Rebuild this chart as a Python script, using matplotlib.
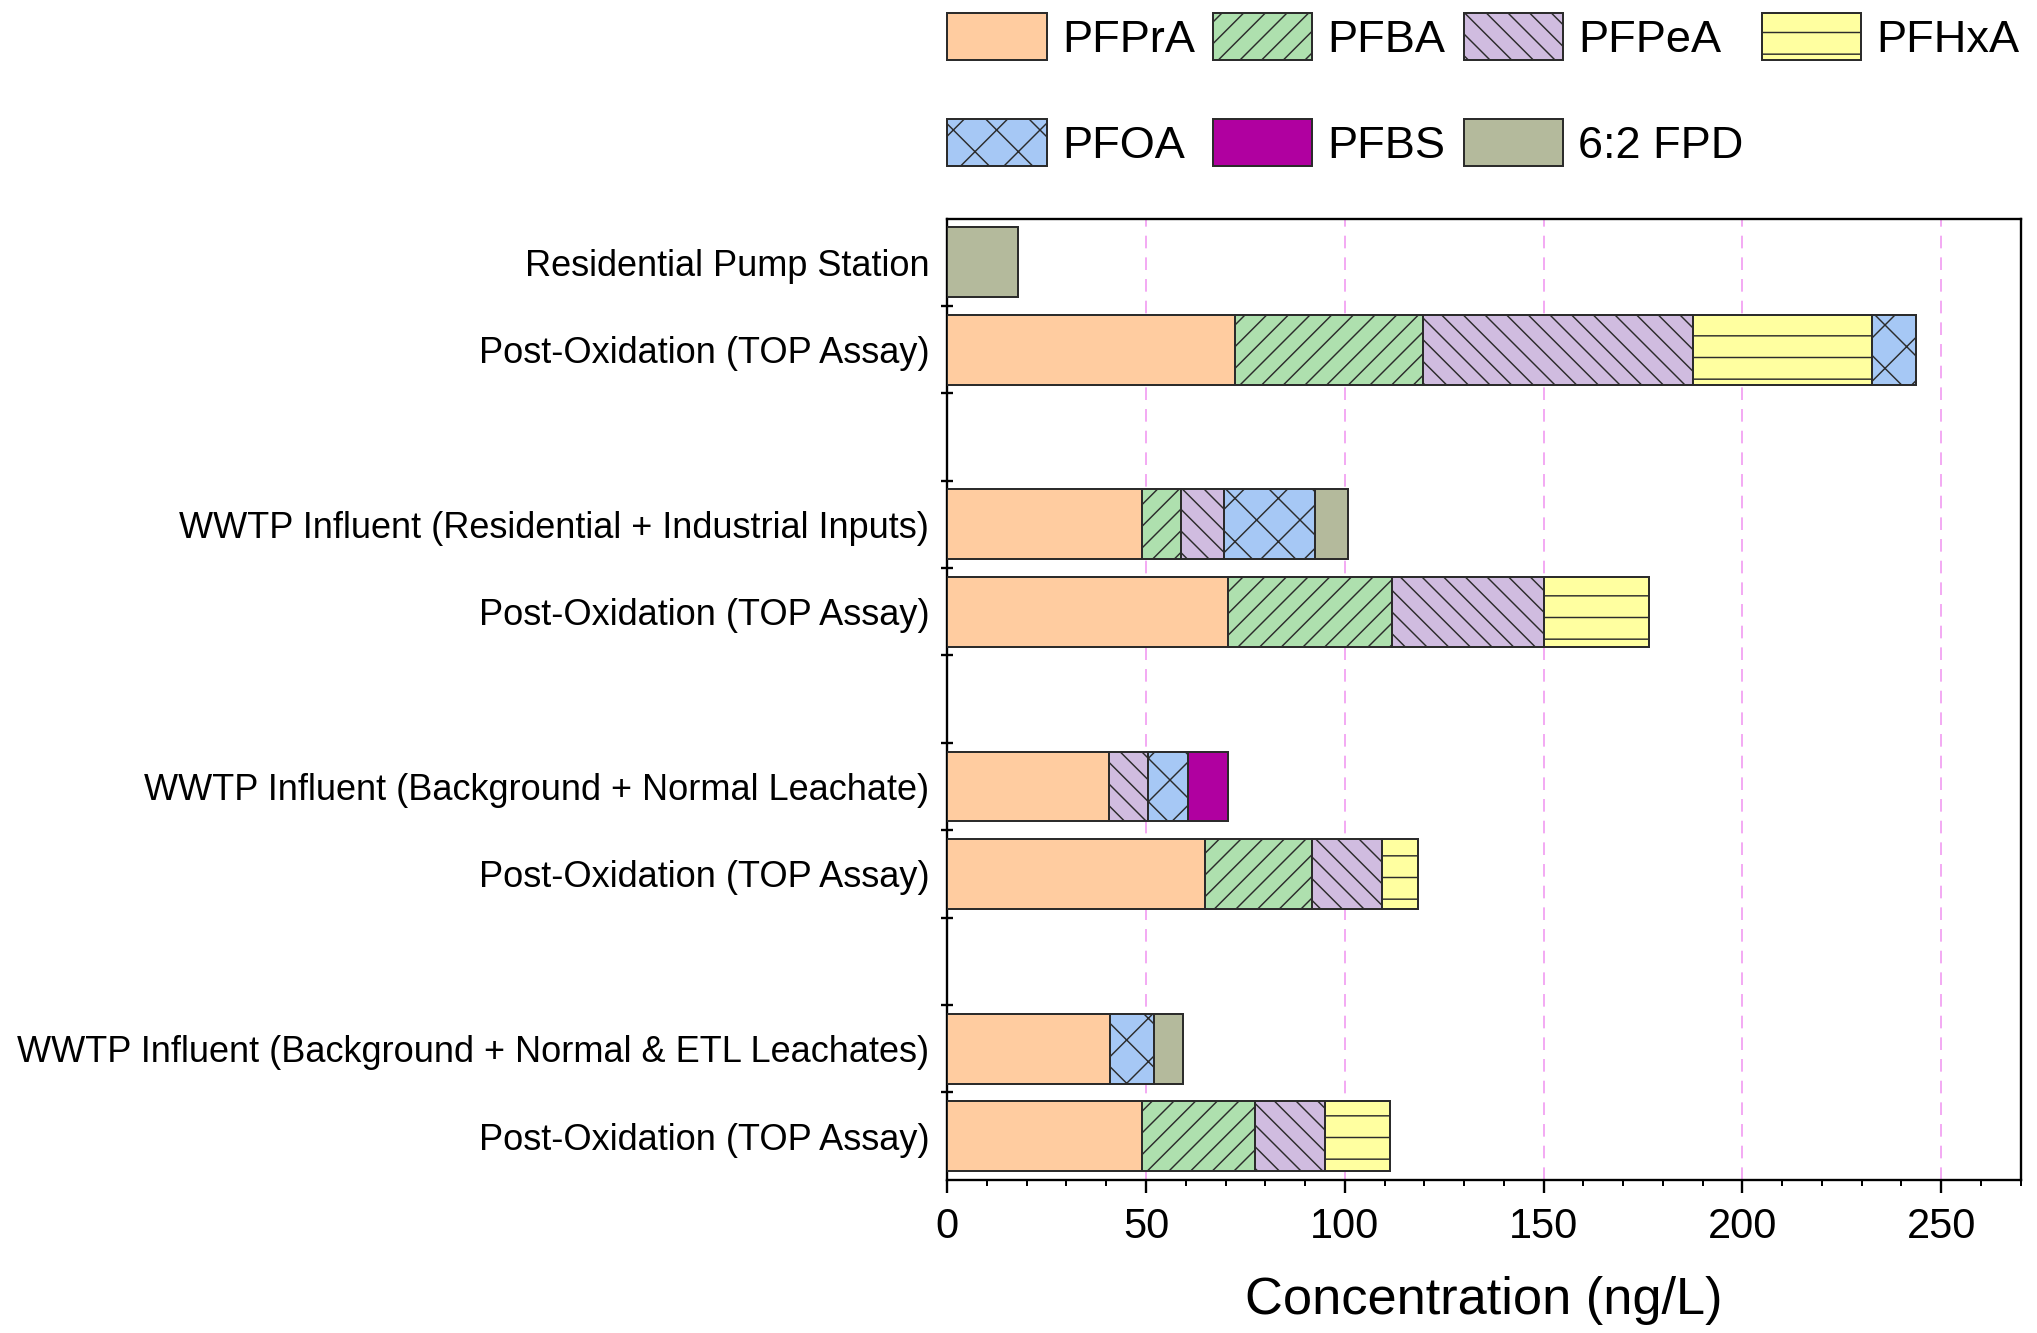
import numpy as np
import matplotlib
matplotlib.use("Agg")
import matplotlib.pyplot as plt
from matplotlib.patches import Patch

# sample labels, top to bottom
samples = [
    "Residential Pump Station",
    "Post-Oxidation (TOP Assay)",
    "WWTP Influent (Residential + Industrial Inputs)",
    "Post-Oxidation (TOP Assay)",
    "WWTP Influent (Background + Normal Leachate)",
    "Post-Oxidation (TOP Assay)",
    "WWTP Influent (Background + Normal & ETL Leachates)",
    "Post-Oxidation (TOP Assay)",
]
y_pos = [0, 1, 3, 4, 6, 7, 9, 10]

# concentrations (ng/L), one value per sample
pfpra = [0, 72.5, 49.0, 70.5, 40.6, 64.8, 41.0, 48.9]
pfba = [0, 47.2, 9.9, 41.4, 0, 26.9, 0, 28.4]
pfpea = [0, 68.0, 10.8, 38.2, 9.8, 17.6, 0, 17.8]
pfhxa = [0, 45.0, 0, 26.5, 0, 9.1, 0, 16.2]
pfoa = [0, 11.0, 22.7, 0, 10.1, 0, 10.9, 0]
pfbs = [0, 0, 0, 0, 10.0, 0, 0, 0]
fpd62 = [17.8, 0, 8.5, 0, 0, 0, 7.3, 0]

compounds = ["PFPrA", "PFBA", "PFPeA", "PFHxA", "PFOA", "PFBS", "6:2 FPD"]
series = [pfpra, pfba, pfpea, pfhxa, pfoa, pfbs, fpd62]
colors = ["#FFCCA0", "#AEE0AE", "#D0BCE0", "#FFFFA0", "#A6C8F5", "#B000A0", "#B4BA9C"]
hatches = ["", "//", "\\\\", "-", "x", "", ""]

plt.rcParams['font.family'] = ['Liberation Sans', 'DejaVu Sans']
plt.rcParams['hatch.linewidth'] = 0.8

fig = plt.figure(figsize=(2037 / 130, 1333 / 130), dpi=130)
ax = fig.add_axes([0.465, 0.115, 0.527, 0.721])

edge = "#2b2b2b"
left = np.zeros(len(samples))
handles = {}
for name, vals, col, h in zip(compounds, series, colors, hatches):
    vals = np.array(vals, dtype=float)
    lw = np.where(vals > 0, 1.1, 0)
    ax.barh(y_pos, vals, left=left, height=0.8, color=col, edgecolor=edge,
            linewidth=lw, hatch=h, zorder=3)
    left += vals
    handles[name] = Patch(facecolor=col, edgecolor=edge, hatch=h, linewidth=1.1)

ax.set_xlim(0, 270)
ax.set_ylim(10.5, -0.5)

# labels sit at bar centres, tick marks between bars
ax.set_yticks(y_pos)
ax.set_yticklabels(samples, fontsize=20)
ax.tick_params(axis='y', which='major', length=0, pad=10)
ax.set_yticks(np.arange(0.5, 10.0, 1.0), minor=True)
ax.tick_params(axis='y', which='minor', direction='inout', length=7, width=1.3)

ax.set_xticks([0, 50, 100, 150, 200, 250])
ax.set_xticks(np.arange(0, 271, 10), minor=True)
ax.tick_params(axis='x', which='major', labelsize=23, length=7, width=1.3, pad=8)
ax.tick_params(axis='x', which='minor', length=3.5, width=1.1)
ax.set_xlabel("Concentration (ng/L)", fontsize=29, labelpad=16)

ax.grid(axis='x', color='#F2A2F2', linestyle=(0, (7, 5)), linewidth=1.0, zorder=0)
for s in ax.spines.values():
    s.set_linewidth(1.3)

# column-major order so rows read PFPrA..PFHxA / PFOA..6:2 FPD
order = ["PFPrA", "PFOA", "PFBA", "PFBS", "PFPeA", "6:2 FPD", "PFHxA"]
fig.legend([handles[n] for n in order], order, ncol=4, loc='upper left',
           bbox_to_anchor=(0.465, 0.99), frameon=False, fontsize=25,
           handlelength=2.2, handleheight=1.2, handletextpad=0.34,
           columnspacing=0.4, labelspacing=1.3, borderpad=0, borderaxespad=0)

fig.savefig("out.png", dpi=130)
